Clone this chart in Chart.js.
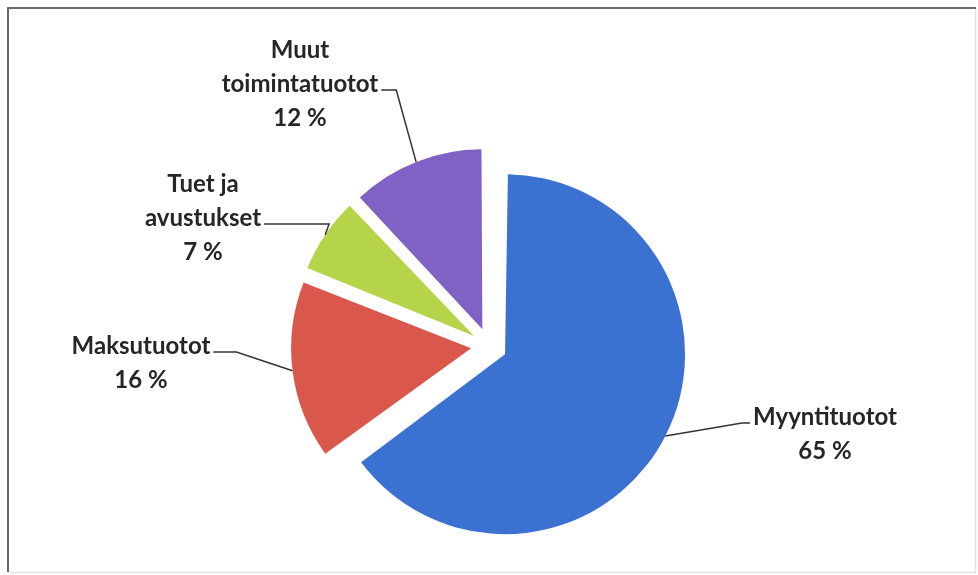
<!DOCTYPE html>
<html>
<head>
<meta charset="utf-8">
<script src="https://cdn.jsdelivr.net/npm/chart.js@4"></script>
<style>
  html, body { margin: 0; padding: 0; background: #fff; }
  #wrap { position: relative; width: 978px; height: 575px; }
</style>
</head>
<body>
<div id="wrap"><canvas id="chart" width="978" height="575"></canvas></div>
<script>
// data
const categories = [['Myyntituotot'], ['Maksutuotot'], ['Tuet ja', 'avustukset'], ['Muut', 'toimintatuotot']];
const shares = [65, 16, 7, 12];
const sliceColors = ['#3B72D2', '#D9574B', '#B6D44A', '#8062C4'];

// where each label block sits, relative to the pie centre, and how its leader attaches
const labelLayout = [
    { dx: 336, dy: 88, attachLine: 0, side: 'left', elbow: 8 },
    { dx: -348, dy: 17, attachLine: 0, side: 'right', elbow: 23 },
    { dx: -286, dy: -128, attachLine: 1, side: 'right', elbow: 65 },
    { dx: -189, dy: -262, attachLine: 1, side: 'right', elbow: 15 }
];

const FONT = 'bold 24px Lato, "Open Sans", sans-serif';
const LINE_H = 34;
const EXPLODE = 72; // chart.js moves a slice by offset / 4

// keep every exploded slice at the same radius (chart.js grows the arc by offset * fix)
const evenRadius = {
    id: 'evenRadius',
    beforeDatasetsDraw(chart) {
        const meta = chart.getDatasetMeta(0);
        const base = meta.controller.outerRadius;
        meta.data.forEach(arc => {
            const off = (arc.options.offset || 0) / 4;
            const fix = 1 - Math.sin(Math.min(Math.PI, arc.circumference));
            arc.outerRadius = base - off * fix;
        });
    }
};

const frame = {
    id: 'frame',
    beforeDraw(chart) {
        const ctx = chart.ctx;
        ctx.save();
        ctx.fillStyle = '#fff';
        ctx.fillRect(0, 0, chart.width, chart.height);
        ctx.strokeStyle = '#e2e2e2';
        ctx.lineWidth = 1.5;
        ctx.beginPath();
        ctx.moveTo(975.5, 8); ctx.lineTo(975.5, 572.5); ctx.lineTo(8, 572.5);
        ctx.stroke();
        ctx.strokeStyle = '#6a6a6a';
        ctx.lineWidth = 2;
        ctx.beginPath();
        ctx.moveTo(8, 572); ctx.lineTo(8, 8); ctx.lineTo(976, 8);
        ctx.stroke();
        ctx.restore();
    }
};

const sliceLabels = {
    id: 'sliceLabels',
    afterDatasetsDraw(chart) {
        const ctx = chart.ctx;
        const meta = chart.getDatasetMeta(0);
        const cx0 = (chart.chartArea.left + chart.chartArea.right) / 2;
        const cy0 = (chart.chartArea.top + chart.chartArea.bottom) / 2;
        const R = meta.controller.outerRadius;
        ctx.save();
        ctx.font = FONT;
        ctx.textAlign = 'center';
        ctx.textBaseline = 'middle';
        meta.data.forEach((arc, i) => {
            const lay = labelLayout[i];
            const lines = categories[i].concat([shares[i] + ' %']);
            const half = (arc.startAngle + arc.endAngle) / 2;
            const off = (arc.options.offset || 0) / 4;
            const ax = arc.x + Math.cos(half) * (off + R);
            const ay = arc.y + Math.sin(half) * (off + R);

            const bx = cx0 + lay.dx;
            const by = cy0 + lay.dy;
            const top = by - (lines.length - 1) * LINE_H / 2;
            ctx.fillStyle = '#262626';
            lines.forEach((t, k) => ctx.fillText(t, bx, top + k * LINE_H));

            const w = ctx.measureText(lines[lay.attachLine]).width;
            const ly = top + lay.attachLine * LINE_H + 6;
            const lx = lay.side === 'right' ? bx + w / 2 + 3 : bx - w / 2 - 3;
            const ex = lay.side === 'right' ? lx + lay.elbow : lx - lay.elbow;
            ctx.strokeStyle = '#333';
            ctx.lineWidth = 1.5;
            ctx.beginPath();
            ctx.moveTo(lx, ly);
            ctx.lineTo(ex, ly);
            ctx.lineTo(ax, ay);
            ctx.stroke();
        });
        ctx.restore();
    }
};

new Chart(document.getElementById('chart'), {
    type: 'pie',
    data: {
        labels: categories,
        datasets: [{
            data: shares,
            backgroundColor: sliceColors,
            borderWidth: 0,
            offset: EXPLODE
        }]
    },
    options: {
        responsive: false,
        animation: false,
        radius: 180,
        layout: { padding: { top: 117, bottom: 0, left: 0, right: 0 } },
        plugins: {
            legend: { display: false },
            tooltip: { enabled: false }
        }
    },
    plugins: [frame, evenRadius, sliceLabels]
});
</script>
</body>
</html>
